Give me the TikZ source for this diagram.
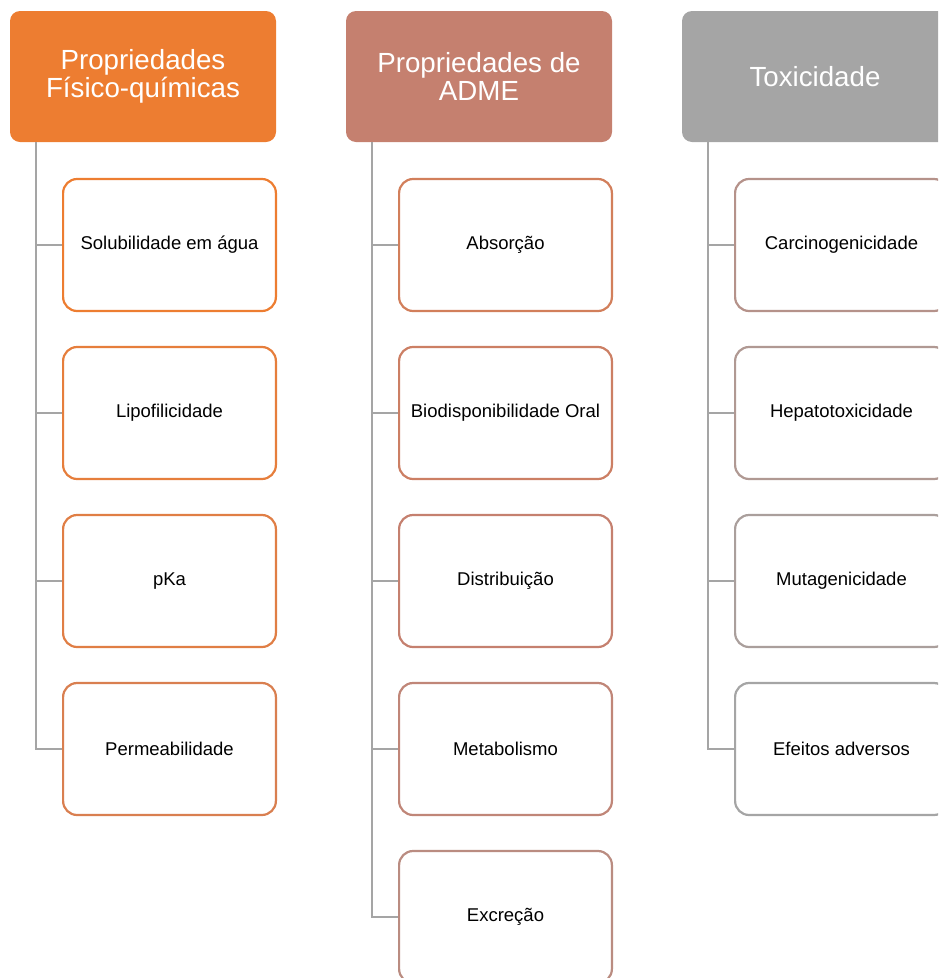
\documentclass[tikz,border=0pt]{standalone}
\usepackage{fontspec}
\setmainfont{Liberation Sans}
\definecolor{accOrange}{HTML}{ED7D31}
\definecolor{accRose}{HTML}{C5806F}
\definecolor{accGray}{HTML}{A5A5A5}
\begin{document}
\begin{tikzpicture}[x=1pt,y=-1pt,
    head/.style={fill=#1, rounded corners=10pt, minimum width=266pt,
      minimum height=131pt, text=white, align=center,
      font=\fontsize{27.7}{28}\selectfont},
    item/.style={draw=#1, fill=white, line width=2.2pt, rounded corners=14pt,
      minimum width=212.8pt, minimum height=132pt,
      font=\fontsize{18.5}{22}\selectfont},
    link/.style={draw=accGray, line width=2.5pt}]
      \clip (0,0) rectangle (938,978);
      \node [head=accOrange] (h1) at (143,76.5) {Propriedades\\Físico-químicas};
      \node [head=accRose] (h2) at (479,76.5) {Propriedades de\\ADME};
      \node [head=accGray] (h3) at (815,76.5) {Toxicidade};
      % first column
      \node [item=accOrange] (p1) at (169.5,245) {Solubilidade em água};
      \node [item=accOrange!83!accRose] (p2) at (169.5,413) {Lipofilicidade};
      \node [item=accOrange!67!accRose] (p3) at (169.5,581) {pKa};
      \node [item=accOrange!50!accRose] (p4) at (169.5,749) {Permeabilidade};
      % second column
      \node [item=accOrange!33!accRose] (a1) at (505.5,245) {Absorção};
      \node [item=accOrange!17!accRose] (a2) at (505.5,413) {Biodisponibilidade Oral};
      \node [item=accRose] (a3) at (505.5,581) {Distribuição};
      \node [item=accRose!83!accGray] (a4) at (505.5,749) {Metabolismo};
      \node [item=accRose!67!accGray] (a5) at (505.5,917) {Excreção};
      % third column
      \node [item=accRose!50!accGray] (t1) at (841.5,245) {Carcinogenicidade};
      \node [item=accRose!33!accGray] (t2) at (841.5,413) {Hepatotoxicidade};
      \node [item=accRose!17!accGray] (t3) at (841.5,581) {Mutagenicidade};
      \node [item=accGray] (t4) at (841.5,749) {Efeitos adversos};
      \foreach \n in {p1,p2,p3,p4}
        \draw [link] ([xshift=26pt]h1.south west) |- (\n.west);
      \foreach \n in {a1,a2,a3,a4,a5}
        \draw [link] ([xshift=26pt]h2.south west) |- (\n.west);
      \foreach \n in {t1,t2,t3,t4}
        \draw [link] ([xshift=26pt]h3.south west) |- (\n.west);
    \end{tikzpicture}
\end{document}
